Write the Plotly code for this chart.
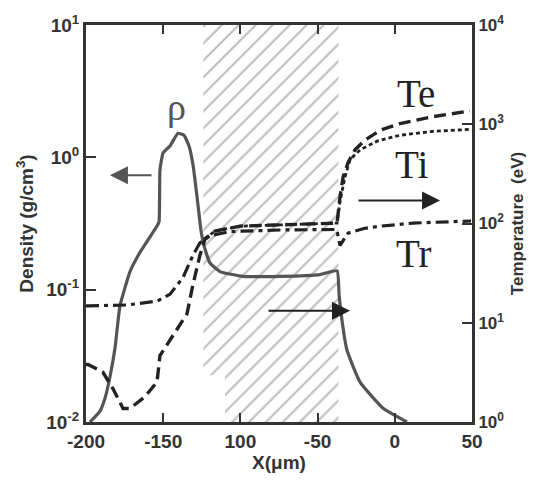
import plotly.graph_objects as go

# ---------------- data ----------------
x_tickvals = [-200, -150, -100, -50, 0, 50]
x_ticktext = ["-200", "-150", "100", "-50", "0", "50"]

dens_tickvals = [0.01, 0.1, 1, 10]
dens_ticktext = ["10<sup>-2</sup>", "10<sup>-1</sup>", "10<sup>0</sup>", "10<sup>1</sup>"]
temp_tickvals = [1, 10, 100, 1000, 10000]
temp_ticktext = ["10<sup>0</sup>", "10<sup>1</sup>", "10<sup>2</sup>", "10<sup>3</sup>", "10<sup>4</sup>"]

rho_x = [-197.4, -190.9, -187.7, -184.5, -181.2, -178.0, -171.5, -165.0, -154.0, -152.7,
         -152.1, -150.1, -145.6, -140.4, -136.5, -133.3, -130.7, -128.1, -125.5, -123.6,
         -119.7, -113.2, -98.3, -74.4, -48.4, -37.4, -36.1, -34.8, -31.0, -22.5, -7.6, 7.9]
rho = [0.0100, 0.0121, 0.0151, 0.0219, 0.0364, 0.0755, 0.137, 0.192, 0.303, 0.325,
       0.80, 1.08, 1.22, 1.52, 1.47, 1.22, 0.88, 0.505, 0.279, 0.216,
       0.159, 0.137, 0.126, 0.126, 0.130, 0.139, 0.0925, 0.066, 0.035, 0.020, 0.0127, 0.0100]

te_x = [-200, -198.7, -189.0, -182.5, -176.0, -171.5, -161.8, -154.0, -152.1, -143.7,
        -134.6, -130.7, -126.2, -122.9, -116.5, -100.3, -61.4, -37.4, -35.5, -33.5,
        -30.3, -25.8, -19.3, -9.6, 3.4, 24.7, 48.7]
te = [3.8, 3.8, 3.17, 2.16, 1.37, 1.37, 1.80, 2.53, 4.66, 7.32,
      12.3, 24.3, 48, 70, 84, 94, 99, 101, 186, 293,
      411, 552, 692, 868, 1017, 1191, 1365]

ti_x = [-122.9, -116.5, -100.3, -61.4, -37.4, -35.5, -32.3, -29.0, -22.5, -11.5, 3.4, 24.7, 48.7]
ti = [70, 84, 94, 99, 101, 166, 293, 440, 552, 676, 775, 849, 888]

tr_x = [-200, -198.7, -173.4, -154.0, -145.6, -137.2, -130.7, -126.2, -119.7, -106.7,
        -74.4, -37.6, -35.5, -30.3, -20.0, -9.6, 11.8, 46.8, 49.4]
tr = [14.8, 14.8, 15.1, 16.5, 19.4, 28.5, 48, 64, 75, 83,
      86, 87, 60, 80, 89, 94, 101, 106, 106]

# hatched target region (x range, density-axis y range), with notch at the bottom left
hatch_x = [-124, -124, -110, -110, -36.5, -36.5, -124]
hatch_y = [10, 0.0226, 0.0226, 0.01, 0.01, 10, 10]

# ---------------- styles ----------------
AX = "#333333"
DARK = "#222222"
GRAY = "#555555"
FONT = "Liberation Sans, Arial, sans-serif"
SERIF = "Liberation Serif, Times New Roman, serif"

fig = go.Figure()

fig.add_trace(go.Scatter(
    x=hatch_x, y=hatch_y, mode="lines", fill="toself",
    fillcolor="rgba(0,0,0,0)", line=dict(width=0, color="rgba(0,0,0,0)"),
    fillpattern=dict(shape="/", size=12, solidity=0.17, fgcolor="#7a7a7a", bgcolor="white"),
    hoverinfo="skip", showlegend=False, yaxis="y"))

fig.add_trace(go.Scatter(x=rho_x, y=rho, mode="lines", yaxis="y",
                         line=dict(color=GRAY, width=3.2, shape="spline", smoothing=0.4), showlegend=False))

fig.add_trace(go.Scatter(x=tr_x, y=tr, mode="lines", yaxis="y2",
                         line=dict(color=DARK, width=3.2, dash="13px,5px,4px,5px"), showlegend=False))
fig.add_trace(go.Scatter(x=ti_x, y=ti, mode="lines", yaxis="y2",
                         line=dict(color=DARK, width=2.8, dash="4px,3px"), showlegend=False))
fig.add_trace(go.Scatter(x=te_x, y=te, mode="lines", yaxis="y2",
                         line=dict(color=DARK, width=3.4, dash="12px,6px"), showlegend=False))

tickfont = dict(family=FONT, size=19, color=AX, weight="bold")
titlefont = dict(family=FONT, size=19, color=AX, weight="bold")

# minor tick positions (2..9 within each decade) drawn by tick-only overlay axes
dens_minor = [m * 10 ** e for e in (-2, -1, 0) for m in range(2, 10)]
temp_minor = [m * 10 ** e for e in (0, 1, 2, 3) for m in range(2, 10)]

minor_axis = dict(tickmode="array", ticks="inside", ticklen=5, tickwidth=2, tickcolor=AX,
                  showticklabels=False, showline=False, showgrid=False, zeroline=False, anchor="x")

fig.update_layout(
    width=559, height=481,
    margin=dict(l=86, r=87, t=24, b=50),
    paper_bgcolor="white", plot_bgcolor="white",
    xaxis=dict(range=[-200, 50], tickmode="array", tickvals=x_tickvals, ticktext=x_ticktext,
               ticks="inside", ticklen=9, tickwidth=2, tickcolor=AX,
               showline=True, linewidth=3, linecolor=AX, mirror="ticks",
               showgrid=False, zeroline=False, tickfont=tickfont,
               title=dict(text="X(μm)", font=titlefont, standoff=4)),
    yaxis=dict(type="log", range=[-2, 1], tickmode="array", tickvals=dens_tickvals, ticktext=dens_ticktext,
               ticks="inside", ticklen=10, tickwidth=2, tickcolor=AX,
               showline=True, linewidth=3, linecolor=AX,
               showgrid=False, zeroline=False, tickfont=tickfont,
               title=dict(text="Density (g/cm<sup>3</sup>)", font=titlefont, standoff=8)),
    yaxis2=dict(type="log", range=[0, 4], overlaying="y", side="right",
                tickmode="array", tickvals=temp_tickvals, ticktext=temp_ticktext,
                ticks="inside", ticklen=10, tickwidth=2, tickcolor=AX,
                showline=True, linewidth=3, linecolor=AX,
                showgrid=False, zeroline=False, tickfont=dict(family=FONT, size=17, color=AX, weight="bold"),
                title=dict(text="Temperature\u00a0\u00a0(eV)", font=dict(family=FONT, size=17, color=AX, weight="bold"), standoff=8)),
    yaxis3=dict(type="log", range=[-2, 1], overlaying="y", side="left", tickvals=dens_minor, **minor_axis),
    yaxis4=dict(type="log", range=[0, 4], overlaying="y", side="right", tickvals=temp_minor, **minor_axis),
    showlegend=False,
)

# labels
fig.add_annotation(x=-141.7, y=0.381, xref="x", yref="y", text="ρ", showarrow=False,
                   font=dict(family=SERIF, size=38, color=GRAY))
fig.add_annotation(x=13.7, y=3.312, xref="x", yref="y2", text="Te", showarrow=False,
                   font=dict(family=SERIF, size=39, color=DARK))
fig.add_annotation(x=11.1, y=2.595, xref="x", yref="y2", text="Ti", showarrow=False,
                   font=dict(family=SERIF, size=39, color=DARK))
fig.add_annotation(x=12.4, y=1.700, xref="x", yref="y2", text="Tr", showarrow=False,
                   font=dict(family=SERIF, size=39, color=DARK))

# arrows
fig.add_annotation(x=-184.5, y=-0.135, xref="x", yref="y", ax=-156.6, ay=-0.135, axref="x", ayref="y",
                   text="", showarrow=True, arrowhead=2, arrowsize=1.8, arrowwidth=2, arrowcolor=GRAY)
fig.add_annotation(x=29.3, y=2.231, xref="x", yref="y2", ax=-24.5, ay=2.231, axref="x", ayref="y2",
                   text="", showarrow=True, arrowhead=2, arrowsize=1.8, arrowwidth=2, arrowcolor=DARK)
fig.add_annotation(x=-29.0, y=1.120, xref="x", yref="y2", ax=-82.8, ay=1.120, axref="x", ayref="y2",
                   text="", showarrow=True, arrowhead=2, arrowsize=1.8, arrowwidth=2, arrowcolor=DARK)

fig.write_html("out.html")
